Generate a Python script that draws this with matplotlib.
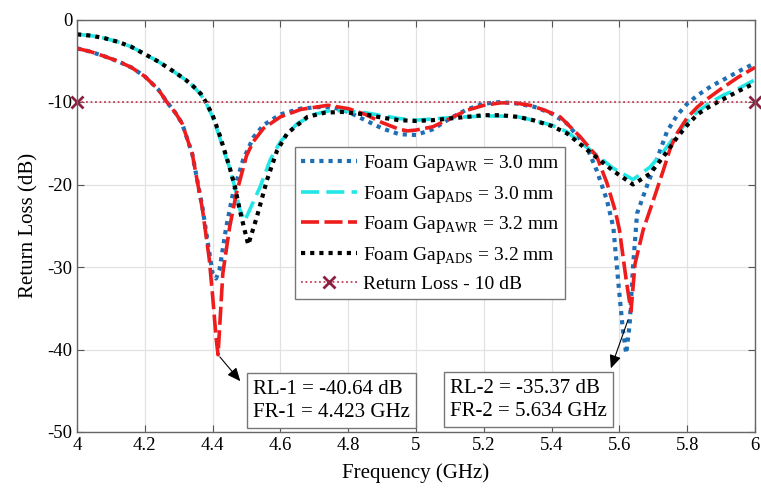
import matplotlib.pyplot as plt

plt.rcParams['font.family'] = ['Liberation Serif', 'DejaVu Serif']
plt.rcParams['mathtext.fontset'] = 'custom'
plt.rcParams['mathtext.rm'] = 'Liberation Serif'
plt.rcParams['axes.unicode_minus'] = False

# Foam Gap AWR = 3.0 mm (blue dotted)
f_awr30 = [4.00, 4.04, 4.08, 4.12, 4.16, 4.20, 4.24, 4.265, 4.29, 4.31, 4.34, 4.37,
           4.39, 4.40, 4.41, 4.42, 4.44, 4.46, 4.49, 4.52, 4.55, 4.60, 4.66, 4.72,
           4.76, 4.80, 4.85, 4.90, 4.95, 5.00, 5.05, 5.10, 5.15, 5.20, 5.25, 5.30,
           5.35, 5.40, 5.445, 5.504, 5.533, 5.563, 5.582, 5.596, 5.61, 5.62, 5.63,
           5.64, 5.652, 5.68, 5.71, 5.74, 5.77, 5.80, 5.83, 5.87, 5.92, 5.96, 6.00]
rl_awr30 = [-3.5, -3.9, -4.45, -5.05, -5.8, -6.9, -8.5, -10.0, -11.3, -12.6, -16.3, -22.8,
            -28.2, -30.8, -31.4, -30.4, -25.2, -21.1, -17.0, -14.3, -12.8, -11.5, -10.8, -10.6,
            -10.7, -11.2, -12.2, -13.2, -13.9, -14.0, -13.3, -12.0, -10.9, -10.2, -10.0, -10.2,
            -10.6, -11.4, -12.6, -15.5, -18.3, -21.9, -25.2, -31.6, -37.6, -40.5, -37.0,
            -30.0, -23.5, -20.3, -17.0, -13.6, -11.6, -10.2, -9.2, -8.1, -7.0, -6.1, -5.3]

# Foam Gap ADS = 3.0 mm (cyan dashed)
f_ads30 = [4.00, 4.04, 4.08, 4.12, 4.16, 4.20, 4.24, 4.285, 4.32, 4.343, 4.365, 4.38,
           4.40, 4.42, 4.45, 4.466, 4.48, 4.495, 4.51, 4.54, 4.57, 4.60, 4.65, 4.70,
           4.75, 4.80, 4.85, 4.95, 5.00, 5.10, 5.20, 5.25, 5.30, 5.345, 5.40, 5.445,
           5.52, 5.58, 5.64, 5.69, 5.73, 5.77, 5.80, 5.83, 5.87, 5.91, 5.95, 6.00]
rl_ads30 = [-1.8, -1.95, -2.25, -2.7, -3.3, -4.2, -5.1, -6.3, -7.3, -8.1, -9.1, -10.1,
            -11.8, -14.2, -18.0, -20.4, -23.0, -24.4, -23.0, -20.3, -17.0, -14.8, -12.6, -11.5,
            -11.0, -11.1, -11.3, -12.0, -12.2, -11.9, -11.7, -11.7, -11.8, -12.2, -12.8, -13.6,
            -16.0, -18.0, -19.4, -17.9, -16.0, -13.8, -12.4, -11.2, -10.0, -9.1, -8.4, -7.3]

# Foam Gap AWR = 3.2 mm (red dashed)
f_awr32 = [4.00, 4.04, 4.08, 4.12, 4.16, 4.20, 4.24, 4.265, 4.29, 4.31, 4.34, 4.37,
           4.39, 4.40, 4.41, 4.416, 4.43, 4.45, 4.47, 4.50, 4.52, 4.55, 4.60, 4.66,
           4.74, 4.80, 4.85, 4.90, 4.95, 4.975, 5.00, 5.05, 5.10, 5.15, 5.20, 5.25,
           5.29, 5.336, 5.38, 5.425, 5.484, 5.533, 5.563, 5.587, 5.60, 5.62, 5.634,
           5.646, 5.67, 5.70, 5.73, 5.75, 5.77, 5.80, 5.83, 5.86, 5.90, 5.95, 6.00]
rl_awr32 = [-3.5, -3.9, -4.45, -5.05, -5.8, -6.9, -8.5, -10.0, -11.3, -12.6, -16.3, -23.0,
            -29.0, -33.5, -38.5, -40.64, -30.8, -25.2, -21.1, -16.5, -14.8, -13.2, -11.8, -10.9,
            -10.4, -10.8, -11.5, -12.5, -13.3, -13.5, -13.4, -13.0, -12.0, -11.0, -10.4, -10.1,
            -10.1, -10.4, -11.0, -11.8, -14.2, -16.6, -19.8, -23.1, -25.5, -31.6, -35.37,
            -29.6, -25.5, -21.9, -18.2, -15.6, -13.8, -11.9, -10.6, -9.6, -8.4, -7.0, -5.8]

# Foam Gap ADS = 3.2 mm (black dotted)
f_ads32 = [4.00, 4.04, 4.08, 4.12, 4.16, 4.20, 4.24, 4.285, 4.32, 4.343, 4.365, 4.38,
           4.40, 4.42, 4.45, 4.466, 4.48, 4.505, 4.53, 4.56, 4.59, 4.62, 4.68, 4.73,
           4.78, 4.85, 4.90, 4.95, 5.00, 5.05, 5.10, 5.15, 5.20, 5.25, 5.30, 5.345,
           5.40, 5.445, 5.52, 5.58, 5.64, 5.69, 5.73, 5.77, 5.80, 5.83, 5.86, 5.89,
           5.95, 6.00]
rl_ads32 = [-1.8, -1.95, -2.25, -2.7, -3.3, -4.2, -5.1, -6.3, -7.3, -8.1, -9.0, -10.0,
            -11.6, -13.9, -17.9, -20.3, -23.1, -27.3, -24.0, -19.5, -15.9, -13.8, -11.8, -11.3,
            -11.2, -11.5, -11.9, -12.2, -12.3, -12.2, -12.0, -11.8, -11.6, -11.6, -11.8, -12.2,
            -12.9, -13.8, -16.3, -18.3, -20.0, -18.7, -16.6, -14.3, -12.8, -11.5, -10.7, -10.0,
            -8.7, -7.7]

ref_f = [4.0, 6.0]
ref_rl = [-10, -10]

labels = [r'Foam Gap$_{\mathrm{AWR}}$ = 3.0 mm',
          r'Foam Gap$_{\mathrm{ADS}}$ = 3.0 mm',
          r'Foam Gap$_{\mathrm{AWR}}$ = 3.2 mm',
          r'Foam Gap$_{\mathrm{ADS}}$ = 3.2 mm',
          'Return Loss - 10 dB']

fig = plt.figure(figsize=(7.61, 5.0), dpi=100)
ax = fig.add_axes([0.1012, 0.136, 0.891, 0.825])

ax.plot(f_awr30, rl_awr30, color='#1f6fb5', ls=(0, (1, 1.2)), lw=3.0, label=labels[0])
ax.plot(f_ads30, rl_ads30, color='#22e6e6', ls=(0, (5, 2)), lw=2.6, label=labels[1])
ax.plot(f_awr32, rl_awr32, color='#ee1c1c', ls=(0, (5, 1.5)), lw=2.6, label=labels[2])
ax.plot(f_ads32, rl_ads32, color='black', ls=(0, (1, 1.2)), lw=3.0, label=labels[3])
ax.plot(ref_f, ref_rl, color='#c0405a', ls=(0, (1, 1.5)), lw=1.3, marker='x',
        ms=8, mew=2, mec='#8b2040', label=labels[4], clip_on=False)

ax.set_xlim(4, 6)
ax.set_ylim(-50, 0)
ax.set_xticks([4, 4.2, 4.4, 4.6, 4.8, 5, 5.2, 5.4, 5.6, 5.8, 6])
ax.set_xticklabels(['4', '4.2', '4.4', '4.6', '4.8', '5', '5.2', '5.4', '5.6', '5.8', '6'])
ax.set_yticks([0, -10, -20, -30, -40, -50])
ax.grid(True, color='#e2e2e2', lw=0.9)
ax.tick_params(direction='in', top=True, right=True, length=5, labelsize=13.5, color='#555555')
for s in ax.spines.values():
    s.set_color('#666666')
    s.set_linewidth(1.0)

ax.set_xlabel('Frequency (GHz)', fontsize=15, labelpad=7)
ax.set_ylabel('Return Loss (dB)', fontsize=15, labelpad=6)

leg = ax.legend(loc='upper left', bbox_to_anchor=(0.3215, 0.691), borderaxespad=0,
                fontsize=14, handlelength=2.9, handletextpad=0.3, labelspacing=0.5,
                fancybox=False, framealpha=1, edgecolor='#777777', numpoints=1,
                borderpad=0.3)
leg.get_frame().set_linewidth(1.0)

box = dict(boxstyle='square,pad=0.3', fc='white', ec='#777777', lw=1.0)
ax.text(4.52, -46.2, 'RL-1 = -40.64 dB\nFR-1 = 4.423 GHz', fontsize=15,
        ha='left', va='center', bbox=box, linespacing=1.3)
ax.text(5.10, -46.1, 'RL-2 = -35.37 dB\nFR-2 = 5.634 GHz', fontsize=15,
        ha='left', va='center', bbox=box, linespacing=1.3)

arrow = dict(arrowstyle='-|>,head_length=0.8,head_width=0.35', color='black', lw=0.8)
ax.annotate('', xy=(4.487, -44.1), xytext=(4.416, -40.64), arrowprops=arrow)
ax.annotate('', xy=(5.572, -42.6), xytext=(5.628, -36.1), arrowprops=arrow)

fig.savefig('out.png', dpi=100)
